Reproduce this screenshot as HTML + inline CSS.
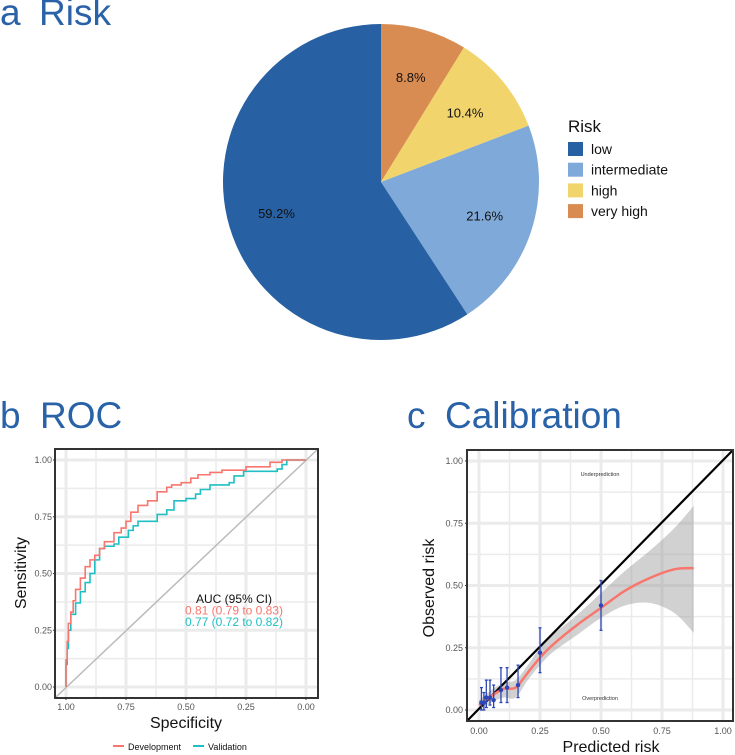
<!DOCTYPE html>
<html><head><meta charset="utf-8">
<style>
html,body{margin:0;padding:0;background:#fff;}
svg{display:block;font-family:"Liberation Sans",sans-serif;}
</style></head>
<body>
<svg id="fig" width="735" height="755" viewBox="0 0 735 755">
  <g fill="#2a62a8" font-size="37">
    <text x="0" y="25">a</text><text x="39" y="25">Risk</text>
  </g>
  <g id="pie"></g>
  <g font-size="14" fill="#111">
    <text x="568" y="132" font-size="17">Risk</text>
    <g id="pieLegend"></g>
  </g>

  <g fill="#2a62a8" font-size="37">
    <text x="0" y="428">b</text><text x="40" y="428">ROC</text>
  </g>
  <g id="roc"></g>

  <g fill="#2a62a8" font-size="37">
    <text x="407" y="428">c</text><text x="445" y="428">Calibration</text>
  </g>
  <g id="cal"></g>
</svg>
<script>
// ---------- Pie data ----------
const pieCategories = ["low","intermediate","high","very high"];
const pieValues = [59.2, 21.6, 10.4, 8.8];
const pieColors = ["#2761a3","#7fa9d8","#f2d46d","#d98c52"];

// ---------- ROC data ----------
const devSpec = [1,0.995,0.99,0.98,0.97,0.96,0.94,0.92,0.90,0.88,0.86,0.84,0.80,0.77,0.75,0.73,0.70,0.66,0.62,0.58,0.56,0.52,0.48,0.45,0.40,0.35,0.25,0.15,0.10,0.08,0];
const devSens = [0,0.12,0.20,0.28,0.33,0.38,0.43,0.48,0.53,0.56,0.58,0.61,0.64,0.68,0.70,0.73,0.77,0.80,0.82,0.86,0.88,0.89,0.90,0.92,0.935,0.945,0.955,0.97,0.99,1.0,1.0];
const valSpec = [1,0.995,0.99,0.98,0.96,0.94,0.92,0.90,0.88,0.86,0.84,0.80,0.78,0.74,0.72,0.70,0.66,0.62,0.58,0.55,0.50,0.46,0.44,0.40,0.32,0.30,0.26,0.25,0.12,0.10,0.08,0.05,0];
const valSens = [0,0.10,0.17,0.25,0.32,0.37,0.42,0.46,0.50,0.56,0.61,0.62,0.63,0.66,0.69,0.71,0.73,0.73,0.76,0.78,0.82,0.83,0.85,0.87,0.89,0.90,0.93,0.95,0.95,0.96,0.98,1.0,1.0];
const rocTicks = [0,0.25,0.5,0.75,1];
const rocTickLabels = ["0.00","0.25","0.50","0.75","1.00"];

// ---------- Calibration data ----------
const calPred = [0.01,0.02,0.03,0.045,0.06,0.09,0.115,0.16,0.25,0.50];
const calObs  = [0.03,0.03,0.05,0.05,0.04,0.08,0.09,0.10,0.23,0.42];
const calLo   = [0.0,0.0,0.01,0.02,0.01,0.03,0.03,0.05,0.15,0.32];
const calHi   = [0.09,0.07,0.12,0.12,0.10,0.17,0.17,0.18,0.33,0.52];
const smoothX  = [0,0.05,0.10,0.15,0.20,0.25,0.30,0.40,0.50,0.60,0.70,0.80,0.88];
const smoothY  = [0.02,0.055,0.085,0.09,0.15,0.21,0.26,0.34,0.41,0.48,0.53,0.565,0.57];
const smoothLo = [0.0,0.03,0.05,0.05,0.12,0.18,0.23,0.30,0.37,0.42,0.43,0.39,0.31];
const smoothHi = [0.04,0.08,0.11,0.12,0.18,0.25,0.30,0.38,0.47,0.56,0.64,0.73,0.82];
const calTicks = [0,0.25,0.5,0.75,1];
const calTickLabels = ["0.00","0.25","0.50","0.75","1.00"];

const NS="http://www.w3.org/2000/svg";
function mk(parent, tag, attrs){const e=document.createElementNS(NS,tag);for(const k in attrs)e.setAttribute(k,attrs[k]);parent.appendChild(e);return e;}

// ---------- Pie ----------
(function(){
  const g=document.getElementById('pie');
  const cx=381, cy=182, r=158;
  const total=pieValues.reduce((a,b)=>a+b,0);
  let start=0;
  const order=[3,2,1,0]; // clockwise from 12 o'clock: very high, high, intermediate, low
  const lab=[];
  order.forEach(i=>{
    const ang=pieValues[i]/total*360;
    const a0=(start-90)*Math.PI/180, a1=(start+ang-90)*Math.PI/180;
    const x0=cx+r*Math.cos(a0), y0=cy+r*Math.sin(a0), x1=cx+r*Math.cos(a1), y1=cy+r*Math.sin(a1);
    const p=mk(g,'path',{d:`M${cx},${cy}L${x0},${y0}A${r},${r} 0 ${ang>180?1:0} 1 ${x1},${y1}Z`,fill:pieColors[i]});
    
    
    const mid=(start+ang/2-90)*Math.PI/180;
    lab.push([i, cx+r*0.69*Math.cos(mid), cy+r*0.69*Math.sin(mid)]);
    start+=ang;
  });
  lab.forEach(([i,x,y])=>{
    const t=mk(g,'text',{x:x,y:y+5,'text-anchor':'middle','font-size':13,fill:'#111'});
    t.textContent=pieValues[i].toFixed(1)+'%';
    
    
  });
  const lg=document.getElementById('pieLegend');
  pieCategories.forEach((c,i)=>{
    const y=149+i*20.7;
    const rr=mk(lg,'rect',{x:568,y:y-7,width:15,height:14,fill:pieColors[i]});
    
    
    const t=mk(lg,'text',{x:591,y:y+5});
    t.textContent=c;
    
    
  });
})();

// ---------- ROC ----------
(function(){
  const g=document.getElementById('roc');
  const L=55,T=449,R=318,B=698;
  const X=s=>66+(1-s)*(306-66);
  const Y=v=>687-v*(687-460);
  mk(g,'rect',{x:L,y:T,width:R-L,height:B-T,fill:'#fff'});
  [0.125,0.375,0.625,0.875].forEach(v=>{
    mk(g,'line',{x1:X(v),x2:X(v),y1:T,y2:B,stroke:'#ebebeb','stroke-width':1.5});
    mk(g,'line',{x1:L,x2:R,y1:Y(v),y2:Y(v),stroke:'#ebebeb','stroke-width':1.5});
  });
  rocTicks.forEach((v,i)=>{
    mk(g,'line',{x1:X(v),x2:X(v),y1:T,y2:B,stroke:'#ebebeb','stroke-width':3});
    mk(g,'line',{x1:L,x2:R,y1:Y(v),y2:Y(v),stroke:'#ebebeb','stroke-width':3});
    const tx=mk(g,'text',{x:X(v),y:B+12,'text-anchor':'middle','font-size':9,fill:'#555'});
    tx.textContent=rocTickLabels[i];
    
    
    const ty=mk(g,'text',{x:L-3,y:Y(v)+3,'text-anchor':'end','font-size':9,fill:'#555'});
    ty.textContent=rocTickLabels[i];
    
    
    mk(g,'line',{x1:X(v),x2:X(v),y1:B,y2:B+2,stroke:'#333'});
    mk(g,'line',{x1:L-2,x2:L,y1:Y(v),y2:Y(v),stroke:'#333'});
  });
  const dl=mk(g,'line',{x1:L,y1:B,x2:R,y2:T,stroke:'#bbb','stroke-width':1.5});
  
  
  function step(sx,sy){let d='';for(let i=0;i<sx.length;i++){const x=X(sx[i]),y=Y(sy[i]);if(i===0)d+=`M${x},${y}`;else d+=`L${X(sx[i-1])},${y}L${x},${y}`;}return d;}
  const v=mk(g,'path',{d:step(valSpec,valSens),fill:'none',stroke:'#1fbfc4','stroke-width':1.6});
  
  
  const d=mk(g,'path',{d:step(devSpec,devSens),fill:'none',stroke:'#f8766d','stroke-width':1.6});
  
  
  mk(g,'rect',{x:L,y:T,width:R-L,height:B-T,fill:'none',stroke:'#333','stroke-width':2});
  const a=[['AUC (95% CI)','#111','auc-title'],['0.81 (0.79 to 0.83)','#f8766d','auc-development'],['0.77 (0.72 to 0.82)','#1fbfc4','auc-validation']];
  a.forEach((r,i)=>{const t=mk(g,'text',{x:234,y:603+i*11.5,'text-anchor':'middle','font-size':12,fill:r[1]});t.textContent=r[0];
    
    });
  const xt=mk(g,'text',{x:186,y:728,'text-anchor':'middle','font-size':16,fill:'#111'});xt.textContent='Specificity';
  
  
  const yt=mk(g,'text',{x:0,y:0,'text-anchor':'middle','font-size':16,fill:'#111',transform:'translate(26,573) rotate(-90)'});yt.textContent='Sensitivity';
  
  
  const lg=mk(g,'g',{});
  
  
  mk(lg,'line',{x1:113,x2:124,y1:746,y2:746,stroke:'#f8766d','stroke-width':2});
  let t=mk(lg,'text',{x:128,y:750,'font-size':9,fill:'#111'});t.textContent='Development';
  
  
  mk(lg,'line',{x1:193,x2:204,y1:746,y2:746,stroke:'#1fbfc4','stroke-width':2});
  t=mk(lg,'text',{x:208,y:750,'font-size':9,fill:'#111'});t.textContent='Validation';
  
  
})();

// ---------- Calibration ----------
(function(){
  const g=document.getElementById('cal');
  const L=467,T=450,R=733,B=721;
  const X=v=>479+v*(723-479);
  const Y=v=>710-v*(710-461);
  function smoothPath(xs,ys,move){
    // Catmull-Rom to bezier
    const p=xs.map((x,i)=>[X(x),Y(ys[i])]);
    let d=(move?'M':'L')+p[0][0]+','+p[0][1];
    for(let i=0;i<p.length-1;i++){
      const p0=p[Math.max(0,i-1)],p1=p[i],p2=p[i+1],p3=p[Math.min(p.length-1,i+2)];
      const c1=[p1[0]+(p2[0]-p0[0])/6,p1[1]+(p2[1]-p0[1])/6];
      const c2=[p2[0]-(p3[0]-p1[0])/6,p2[1]-(p3[1]-p1[1])/6];
      d+=`C${c1[0]},${c1[1]} ${c2[0]},${c2[1]} ${p2[0]},${p2[1]}`;
    }
    return d;
  }
  mk(g,'rect',{x:L,y:T,width:R-L,height:B-T,fill:'#fff'});
  [0.125,0.375,0.625,0.875].forEach(v=>{
    mk(g,'line',{x1:X(v),x2:X(v),y1:T,y2:B,stroke:'#ebebeb','stroke-width':1.5});
    mk(g,'line',{x1:L,x2:R,y1:Y(v),y2:Y(v),stroke:'#ebebeb','stroke-width':1.5});
  });
  calTicks.forEach((v,i)=>{
    mk(g,'line',{x1:X(v),x2:X(v),y1:T,y2:B,stroke:'#ebebeb','stroke-width':3});
    mk(g,'line',{x1:L,x2:R,y1:Y(v),y2:Y(v),stroke:'#ebebeb','stroke-width':3});
    const tx=mk(g,'text',{x:X(v),y:B+13,'text-anchor':'middle','font-size':9,fill:'#555'});
    tx.textContent=calTickLabels[i];
    
    
    const ty=mk(g,'text',{x:L-4,y:Y(v)+3,'text-anchor':'end','font-size':9,fill:'#555'});
    ty.textContent=calTickLabels[i];
    
    
    mk(g,'line',{x1:L-2,x2:L,y1:Y(v),y2:Y(v),stroke:'#333'});
  });
  const rx=smoothX.slice().reverse(), rlo=smoothLo.slice().reverse();
  const band=mk(g,'path',{d:smoothPath(smoothX,smoothHi,true)+smoothPath(rx,rlo,false)+'Z',fill:'#999','fill-opacity':0.45});
  
  
  const id=mk(g,'line',{x1:L,y1:B,x2:R,y2:T,stroke:'#000','stroke-width':2.2});
  
  
  const sm=mk(g,'path',{d:smoothPath(smoothX,smoothY,true),fill:'none',stroke:'#f8766d','stroke-width':2.5,'stroke-linejoin':'round'});
  
  
  calPred.forEach((p,i)=>{
    const x=X(p);
    const eb=mk(g,'g',{stroke:'#2d46b5','stroke-width':1.3});
    
    
    mk(eb,'line',{x1:x,x2:x,y1:Y(calLo[i]),y2:Y(calHi[i])});
    mk(eb,'line',{x1:x-1.5,x2:x+1.5,y1:Y(calLo[i]),y2:Y(calLo[i])});
    mk(eb,'line',{x1:x-1.5,x2:x+1.5,y1:Y(calHi[i]),y2:Y(calHi[i])});
    mk(eb,'circle',{cx:x,cy:Y(calObs[i]),r:2.2,fill:'#2d46b5',stroke:'none'});
  });
  mk(g,'rect',{x:L,y:T,width:R-L,height:B-T,fill:'none',stroke:'#333','stroke-width':2});
  let t=mk(g,'text',{x:600,y:476,'text-anchor':'middle','font-size':5.5,fill:'#333'});t.textContent='Underprediction';
  
  
  t=mk(g,'text',{x:600,y:700,'text-anchor':'middle','font-size':5.5,fill:'#333'});t.textContent='Overprediction';
  
  
  t=mk(g,'text',{x:611,y:752,'text-anchor':'middle','font-size':16,fill:'#111'});t.textContent='Predicted risk';
  
  
  t=mk(g,'text',{x:0,y:0,'text-anchor':'middle','font-size':16,fill:'#111',transform:'translate(434,588) rotate(-90)'});t.textContent='Observed risk';
  
  
})();
</script>
</body></html>
